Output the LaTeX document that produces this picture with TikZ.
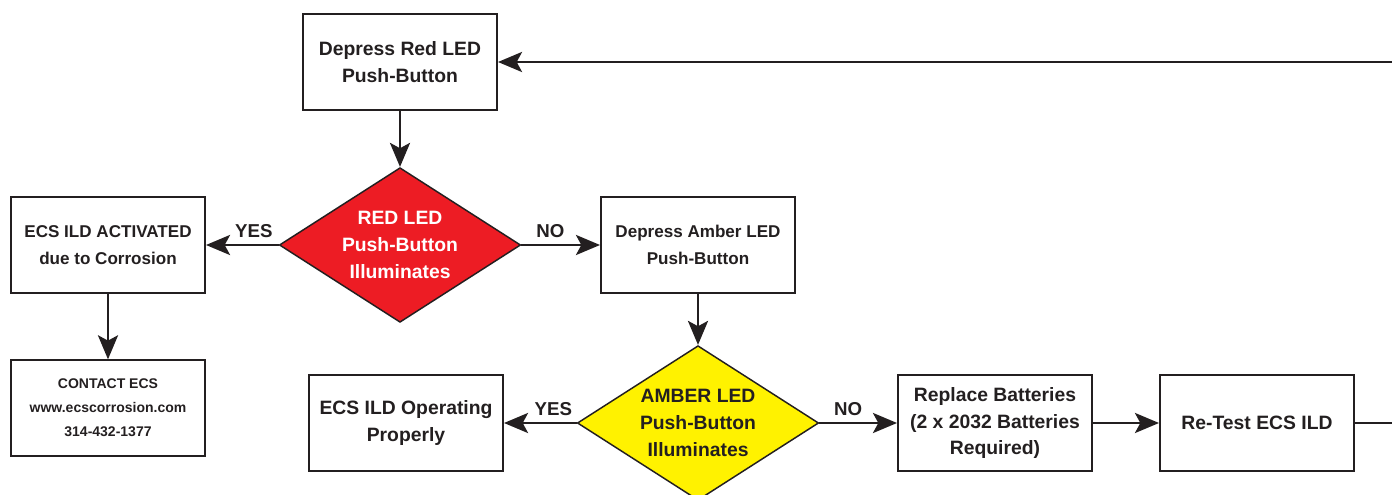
\documentclass[tikz,border=0pt]{standalone}
\usepackage{fontspec}
\setmainfont{Liberation Sans}
\usepackage{xcolor}
\usetikzlibrary{arrows.meta,positioning,shapes.geometric}
\definecolor{ledred}{HTML}{ED1C24}
\definecolor{ledamber}{HTML}{FFF200}
\definecolor{ink}{HTML}{231F20}

\begin{document}
\begin{tikzpicture}[x=0.75pt,y=-0.75pt,>={Stealth[length=18pt,width=15pt,inset=4pt]},
    every node/.style={font=\bfseries,text=ink},
    bigtxt/.style={font=\bfseries\fontsize{14.5}{20}\selectfont},
    midtxt/.style={font=\bfseries\fontsize{12.8}{20}\selectfont},
    smalltxt/.style={font=\bfseries\fontsize{10.5}{18}\selectfont},
    stepbox/.style={draw=ink,line width=1.5pt,minimum width=145.5pt,minimum height=71.5pt,inner sep=0pt,align=center},
    query/.style={diamond,draw=ink,line width=1.1pt,aspect=1.55,minimum width=181pt,minimum height=116pt,inner sep=0pt,align=center},
    flow/.style={->,draw=ink,line width=2.2pt},
    answer/.style={font=\bfseries\fontsize{14}{16}\selectfont,above=1pt}]
    \useasboundingbox (0,0) rectangle (1392,495);
    \clip (0,0) rectangle (1392,495);
    % red LED branch
    \node[stepbox,bigtxt] (pressred) at (400,62) {Depress Red LED\\Push-Button};
    \node[query,bigtxt,fill=ledred,text=white] (redlit) at (400,245) {RED LED\\Push-Button\\Illuminates};
    \node[stepbox,midtxt] (activated) at (108,245) {ECS ILD ACTIVATED\\due to Corrosion};
    \node[stepbox,smalltxt] (contact) at (108,408) {CONTACT ECS\\www.ecscorrosion.com\\314-432-1377};
    % amber LED branch
    \node[stepbox,midtxt] (pressamber) at (698,245) {Depress Amber LED\\Push-Button};
    \node[query,bigtxt,fill=ledamber] (amberlit) at (698,423) {AMBER LED\\Push-Button\\Illuminates};
    \node[stepbox,bigtxt] (working) at (406,423) {ECS ILD Operating\\Properly};
    \node[stepbox,bigtxt] (batteries) at (995,423) {Replace Batteries\\(2 x 2032 Batteries\\Required)};
    \node[stepbox,bigtxt] (retest) at (1257,423) {Re-Test ECS ILD};
    \coordinate (loopside) at (1430,0);
    \draw[flow] (pressred) -- (redlit);
    \draw[flow] (redlit) -- node[answer,pos=0.34]{YES} (activated);
    \draw[flow] (redlit) -- node[answer,pos=0.37]{NO} (pressamber);
    \draw[flow] (activated) -- (contact);
    \draw[flow] (pressamber) -- (amberlit);
    \draw[flow] (amberlit) -- node[answer,pos=0.32]{YES} (working);
    \draw[flow] (amberlit) -- node[answer,pos=0.37]{NO} (batteries);
    \draw[flow] (batteries) -- (retest);
    \draw[flow] (retest.east) -- (retest.east -| loopside) |- (pressred.east);
\end{tikzpicture}
\end{document}
